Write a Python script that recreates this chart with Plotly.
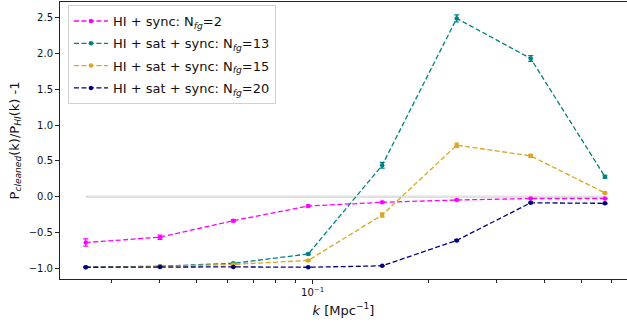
import plotly.graph_objects as go

k = [0.0257, 0.0401, 0.0622, 0.0974, 0.1517, 0.2370, 0.3691, 0.5758]

names = [
    "HI + sync: N<sub><i>fg</i></sub>=2",
    "HI + sat + sync: N<sub><i>fg</i></sub>=13",
    "HI + sat + sync: N<sub><i>fg</i></sub>=15",
    "HI + sat + sync: N<sub><i>fg</i></sub>=20",
]
colors = ["#FF00FF", "#008080", "#DAA520", "#000080"]

sync_2 = [-0.64, -0.565, -0.335, -0.13, -0.078, -0.046, -0.025, -0.025]
sat_13 = [-0.985, -0.97, -0.93, -0.80, 0.44, 2.49, 1.93, 0.28]
sat_15 = [-0.985, -0.975, -0.945, -0.89, -0.255, 0.72, 0.57, 0.053]
sat_20 = [-0.985, -0.98, -0.98, -0.985, -0.965, -0.61, -0.085, -0.092]

err_2 = [0.05, 0.03, 0.015, 0.012, 0.01, 0.008, 0.006, 0.006]
err_13 = [0.005, 0.005, 0.008, 0.012, 0.04, 0.05, 0.04, 0.02]
err_15 = [0.004, 0.004, 0.006, 0.01, 0.03, 0.03, 0.02, 0.01]
err_20 = [0.003, 0.003, 0.003, 0.003, 0.004, 0.01, 0.01, 0.008]

series = [sync_2, sat_13, sat_15, sat_20]
errors = [err_2, err_13, err_15, err_20]

zero_line = [0.0, 0.0]

x_major_ticks = [0.1]
x_major_text = ["10<sup>−1</sup>"]
x_minor_ticks = [0.03, 0.04, 0.05, 0.06, 0.07, 0.08, 0.09, 0.2, 0.3, 0.4, 0.5, 0.6]
y_ticks = [-1.0, -0.5, 0.0, 0.5, 1.0, 1.5, 2.0, 2.5]

fig = go.Figure()

fig.add_trace(go.Scatter(
    x=[k[0], k[-1]], y=zero_line, mode="lines",
    line=dict(color="rgba(200,200,200,0.55)", width=2.5),
    showlegend=False, hoverinfo="skip"))

for i, (name, col, ys, es) in enumerate(zip(names, colors, series, errors)):
    fig.add_trace(go.Scatter(
        x=k, y=ys, name=name, mode="lines+markers", legendgroup=f"g{i}",
        line=dict(color=col, width=1.3, dash="5px,2.5px"),
        marker=dict(color=col, size=4.5),
        error_y=dict(type="data", array=es, color=col, thickness=1.2, width=2.5),
    ))

fig.update_layout(
    width=627, height=324,
    margin=dict(l=60, r=0, t=2, b=45),
    paper_bgcolor="white", plot_bgcolor="white",
    font=dict(family="DejaVu Sans", color="#111"),
    legend=dict(
        x=0.014, y=0.989, xanchor="left", yanchor="top",
        bgcolor="rgba(255,255,255,0.85)", bordercolor="#d0d0d0", borderwidth=1,
        font=dict(size=13, color="#111"), tracegroupgap=2.4, itemwidth=34,
        entrywidth=235,
    ),
    xaxis=dict(
        type="log", range=[-1.657, -0.1824],
        tickmode="array", tickvals=x_major_ticks, ticktext=x_major_text,
        ticks="outside", ticklen=4, tickwidth=1, tickcolor="#222",
        minor=dict(tickmode="array", tickvals=x_minor_ticks, ticks="outside",
                   ticklen=2.5, tickwidth=0.8, tickcolor="#222", showgrid=False),
        showline=True, linecolor="#222", linewidth=1, mirror=True,
        showgrid=False, zeroline=False,
        tickfont=dict(size=10),
        title=dict(text="<i>k</i> [Mpc<sup>−1</sup>]", font=dict(size=13), standoff=8),
    ),
    yaxis=dict(
        range=[-1.149, 2.719],
        tickmode="array", tickvals=y_ticks, tickformat=".1f",
        ticks="outside", ticklen=4, tickwidth=1, tickcolor="#222",
        showline=True, linecolor="#222", linewidth=1, mirror=False,
        showgrid=False, zeroline=False,
        tickfont=dict(size=10),
        title=dict(text="P<sub><i>cleaned</i></sub>(k)/P<sub><i>HI</i></sub>(k) -1",
                   font=dict(size=13), standoff=6),
    ),
)

fig.write_html("out.html")
